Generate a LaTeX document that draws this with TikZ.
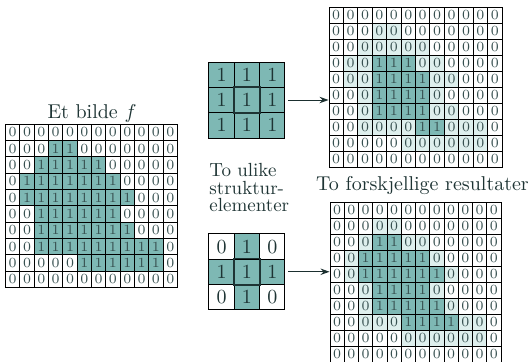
\documentclass[tikz,border=0pt]{standalone}
\usetikzlibrary{arrows.meta}
\definecolor{tealdark}{RGB}{126,184,180}
\definecolor{teallight}{RGB}{222,239,237}
\definecolor{ink}{RGB}{30,52,52}
\definecolor{digit}{RGB}{55,80,80}
\begin{document}
\begin{tikzpicture}[x=0.5pt,y=-0.5pt,
  bigcell/.style={draw=black,line width=0.45pt,inner sep=0pt,text=digit,
    font=\fontsize{7}{7}\selectfont},
  secell/.style={draw=black,line width=0.5pt,inner sep=0pt,
    minimum width=12.67pt,minimum height=12.67pt,text=ink,
    font=\fontsize{10}{10}\selectfont},
  c0/.style={fill=white},
  c1/.style={fill=tealdark},
  c2/.style={fill=teallight},
  label/.style={text=ink,inner sep=0pt,font=\fontsize{10}{12}\selectfont},
  arr/.style={draw=ink!90!black,line width=0.5pt,-{Stealth[length=4.5pt,width=3.2pt]},
    shorten <=1.5pt}
]
\useasboundingbox (0,0) rectangle (531,361);

% input image f
\foreach \row [count=\r from 0] in {
  {0,0,0,0,0,0,0,0,0,0,0,0},
  {0,0,0,1,1,0,0,0,0,0,0,0},
  {0,0,1,1,1,1,1,0,0,0,0,0},
  {0,1,1,1,1,1,1,1,0,0,0,0},
  {0,1,1,1,1,1,1,1,1,0,0,0},
  {0,0,1,1,1,1,1,1,0,0,0,0},
  {0,0,1,1,1,1,1,1,1,0,0,0},
  {0,0,1,1,1,1,1,1,1,1,1,0},
  {0,0,0,0,0,1,1,1,1,1,1,0},
  {0,0,0,0,0,0,0,0,0,0,0,0}}{
  \foreach \v [count=\c from 0] in \row {
    \node[bigcell,c\v,minimum width=7.17pt,minimum height=8.17pt]
      (f-\r-\c) at ({5.5+(\c+0.5)*14.33},{124+(\r+0.5)*16.35})
      {\ifnum\v=1 1\else 0\fi};
  }
}
\node[label,anchor=base] (ftitle) at (92,118) {Et bilde $f$};

% result of the square element (1 = kept, 2 = removed part of f)
\foreach \row [count=\r from 0] in {
  {0,0,0,0,0,0,0,0,0,0,0,0},
  {0,0,0,2,2,0,0,0,0,0,0,0},
  {0,0,2,2,2,2,2,0,0,0,0,0},
  {0,2,2,1,1,1,2,2,0,0,0,0},
  {0,2,2,1,1,1,1,2,2,0,0,0},
  {0,0,2,1,1,1,1,2,0,0,0,0},
  {0,0,2,1,1,1,1,2,2,0,0,0},
  {0,0,2,2,2,2,1,1,2,2,2,0},
  {0,0,0,0,0,2,2,2,2,2,2,0},
  {0,0,0,0,0,0,0,0,0,0,0,0}}{
  \foreach \v [count=\c from 0] in \row {
    \node[bigcell,c\v,minimum width=7.21pt,minimum height=8pt]
      (ra-\r-\c) at ({329+(\c+0.5)*14.42},{7+(\r+0.5)*16})
      {\ifnum\v=1 1\else 0\fi};
  }
}

% result of the cross element
\foreach \row [count=\r from 0] in {
  {0,0,0,0,0,0,0,0,0,0,0,0},
  {0,0,0,2,2,0,0,0,0,0,0,0},
  {0,0,2,1,1,2,2,0,0,0,0,0},
  {0,2,1,1,1,1,1,2,0,0,0,0},
  {0,2,1,1,1,1,1,1,2,0,0,0},
  {0,0,2,1,1,1,1,2,0,0,0,0},
  {0,0,2,1,1,1,1,1,2,0,0,0},
  {0,0,2,2,2,1,1,1,1,2,2,0},
  {0,0,0,0,0,2,2,2,2,2,2,0},
  {0,0,0,0,0,0,0,0,0,0,0,0}}{
  \foreach \v [count=\c from 0] in \row {
    \node[bigcell,c\v,minimum width=7.13pt,minimum height=8pt]
      (rb-\r-\c) at ({330+(\c+0.5)*14.25},{202+(\r+0.5)*16})
      {\ifnum\v=1 1\else 0\fi};
  }
}
\node[label,anchor=base] (rtitle) at (422.5,190) {To forskjellige resultater};

% structuring elements
\foreach \row [count=\r from 0] in {{1,1,1},{1,1,1},{1,1,1}}{
  \foreach \v [count=\c from 0] in \row {
    \node[secell,c\v] (sa-\r-\c) at ({209+(\c+0.5)*25.33},{62+(\r+0.5)*25.33})
      {\ifnum\v=1 1\else 0\fi};
  }
}
\foreach \row [count=\r from 0] in {{0,1,0},{1,1,1},{0,1,0}}{
  \foreach \v [count=\c from 0] in \row {
    \node[secell,c\v] (sb-\r-\c) at ({209+(\c+0.5)*25.33},{234+(\r+0.5)*25.17})
      {\ifnum\v=1 1\else 0\fi};
  }
}
\draw[line width=0.9pt,draw=ink] (sa-1-1.north west) rectangle (sa-1-1.south east);
\draw[line width=0.9pt,draw=ink] (sb-1-1.north west) rectangle (sb-1-1.south east);

\node[label,anchor=north west,align=left,font=\fontsize{9.5}{8.75}\selectfont]
  (setitle) at (209,163) {To ulike\\struktur-\\elementer};

% arrows from each element to its result
\draw[arr] (sa-1-2.east) -- (sa-1-2.east -| ra-5-0.west);
\draw[arr] (sb-1-2.east) -- (sb-1-2.east -| rb-4-0.west);
\end{tikzpicture}
\end{document}
